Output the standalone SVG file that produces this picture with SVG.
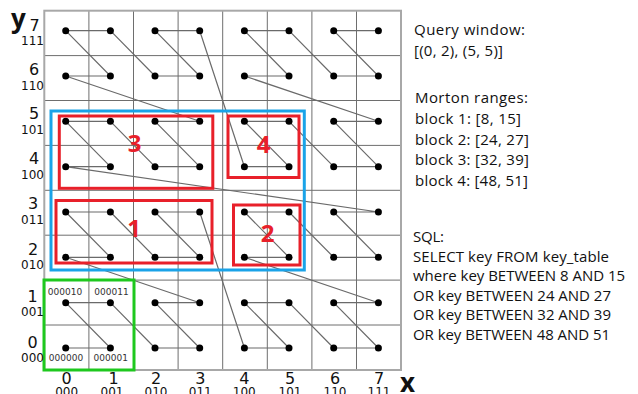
<svg xmlns="http://www.w3.org/2000/svg" width="638" height="394" viewBox="0 0 638 394">
<style>
.gi{stroke:#6e6e6e;stroke-width:1;fill:none}
.go{stroke:#a8a8a8;stroke-width:2;fill:none}
.curve{stroke:#6a6a6a;stroke-width:1.2;fill:none;stroke-linejoin:round}
.dot{fill:#000}
.red{stroke:#e8202a;stroke-width:3;fill:none}
.blue{stroke:#1aa3e8;stroke-width:3;fill:none}
.green{stroke:#1ec81e;stroke-width:3;fill:none}
.rl{font-family:"Open Sans","Noto Sans",sans-serif;font-weight:bold;font-size:24px;fill:#e8202a;text-anchor:middle}
.num{font-family:"DejaVu Sans",sans-serif;font-size:16px;fill:#111;text-anchor:middle}
.bin{font-family:"DejaVu Sans",sans-serif;font-size:12px;fill:#111;text-anchor:middle}
.code{font-family:"DejaVu Sans",sans-serif;font-size:9px;fill:#333;text-anchor:middle}
.ax{font-family:"Open Sans","DejaVu Sans",sans-serif;font-weight:bold;font-size:26px;fill:#111}
.txt{font-family:"Open Sans","Noto Sans",sans-serif;font-size:15px;fill:#111}
</style>
<rect width="638" height="394" fill="#fff"/>
<g id="grid">
<path class="gi" d="M88.9 10.7V370M133.5 10.7V370M178.1 10.7V370M222.7 10.7V370M267.3 10.7V370M311.9 10.7V370M356.5 10.7V370M44.3 55.6H401M44.3 100.5H401M44.3 145.4H401M44.3 190.3H401M44.3 235.2H401M44.3 280.1H401M44.3 325H401"/>
<rect class="go" x="44.3" y="10.7" width="356.7" height="359.3"/>
</g>
<g id="connectors">
<polyline class="curve" points="65.7,348 110.4,348 65.7,302.7 110.4,302.7 155,348 199.7,348 155,302.7 199.7,302.7 65.7,257.3 110.4,257.3 65.7,212 110.4,212 155,257.3 199.7,257.3 155,212 199.7,212 244.4,348 289,348 244.4,302.7 289,302.7 333.7,348 378.4,348 333.7,302.7 378.4,302.7 244.4,257.3 289,257.3 244.4,212 289,212 333.7,257.3 378.4,257.3 333.7,212 378.4,212 65.7,166.7 110.4,166.7 65.7,121.3 110.4,121.3 155,166.7 199.7,166.7 155,121.3 199.7,121.3 65.7,76 110.4,76 65.7,30.7 110.4,30.7 155,76 199.7,76 155,30.7 199.7,30.7 244.4,166.7 289,166.7 244.4,121.3 289,121.3 333.7,166.7 378.4,166.7 333.7,121.3 378.4,121.3 244.4,76 289,76 244.4,30.7 289,30.7 333.7,76 378.4,76 333.7,30.7 378.4,30.7"/>
</g>
<defs><circle id="d" r="3.5" class="dot"/></defs>
<g id="points" class="dot">
<use href="#d" x="65.7" y="348"/><use href="#d" x="110.4" y="348"/><use href="#d" x="155" y="348"/><use href="#d" x="199.7" y="348"/><use href="#d" x="244.4" y="348"/><use href="#d" x="289" y="348"/><use href="#d" x="333.7" y="348"/><use href="#d" x="378.4" y="348"/>
<use href="#d" x="65.7" y="302.7"/><use href="#d" x="110.4" y="302.7"/><use href="#d" x="155" y="302.7"/><use href="#d" x="199.7" y="302.7"/><use href="#d" x="244.4" y="302.7"/><use href="#d" x="289" y="302.7"/><use href="#d" x="333.7" y="302.7"/><use href="#d" x="378.4" y="302.7"/>
<use href="#d" x="65.7" y="257.3"/><use href="#d" x="110.4" y="257.3"/><use href="#d" x="155" y="257.3"/><use href="#d" x="199.7" y="257.3"/><use href="#d" x="244.4" y="257.3"/><use href="#d" x="289" y="257.3"/><use href="#d" x="333.7" y="257.3"/><use href="#d" x="378.4" y="257.3"/>
<use href="#d" x="65.7" y="212"/><use href="#d" x="110.4" y="212"/><use href="#d" x="155" y="212"/><use href="#d" x="199.7" y="212"/><use href="#d" x="244.4" y="212"/><use href="#d" x="289" y="212"/><use href="#d" x="333.7" y="212"/><use href="#d" x="378.4" y="212"/>
<use href="#d" x="65.7" y="166.7"/><use href="#d" x="110.4" y="166.7"/><use href="#d" x="155" y="166.7"/><use href="#d" x="199.7" y="166.7"/><use href="#d" x="244.4" y="166.7"/><use href="#d" x="289" y="166.7"/><use href="#d" x="333.7" y="166.7"/><use href="#d" x="378.4" y="166.7"/>
<use href="#d" x="65.7" y="121.3"/><use href="#d" x="110.4" y="121.3"/><use href="#d" x="155" y="121.3"/><use href="#d" x="199.7" y="121.3"/><use href="#d" x="244.4" y="121.3"/><use href="#d" x="289" y="121.3"/><use href="#d" x="333.7" y="121.3"/><use href="#d" x="378.4" y="121.3"/>
<use href="#d" x="65.7" y="76"/><use href="#d" x="110.4" y="76"/><use href="#d" x="155" y="76"/><use href="#d" x="199.7" y="76"/><use href="#d" x="244.4" y="76"/><use href="#d" x="289" y="76"/><use href="#d" x="333.7" y="76"/><use href="#d" x="378.4" y="76"/>
<use href="#d" x="65.7" y="30.7"/><use href="#d" x="110.4" y="30.7"/><use href="#d" x="155" y="30.7"/><use href="#d" x="199.7" y="30.7"/><use href="#d" x="244.4" y="30.7"/><use href="#d" x="289" y="30.7"/><use href="#d" x="333.7" y="30.7"/><use href="#d" x="378.4" y="30.7"/>
</g>
<g id="query-window"><rect class="blue" x="51" y="111" width="253.3" height="159"/></g>
<g id="block-1"><rect class="red" x="56" y="200.5" width="156" height="62.5"/><text class="rl" x="134" y="237">1</text></g>
<g id="block-2"><rect class="red" x="233.5" y="205" width="66.5" height="60"/><text class="rl" x="267.5" y="242">2</text></g>
<g id="block-3"><rect class="red" x="59.3" y="116" width="153.5" height="72.3"/><text class="rl" x="134.5" y="152">3</text></g>
<g id="block-4"><rect class="red" x="228" y="116" width="71" height="61.5"/><text class="rl" x="263.5" y="153">4</text></g>
<g id="cell-codes">
<rect class="green" x="44" y="280" width="90" height="90"/>
<text class="code" x="65" y="294.5">000010</text>
<text class="code" x="111.5" y="294.5">000011</text>
<text class="code" x="66" y="360.5">000000</text>
<text class="code" x="110.7" y="360.5">000001</text>
</g>
<g id="y-axis">
<text class="ax" x="11" y="28">y</text>
<text class="num" x="34.5" y="31">7</text><text class="bin" x="32.5" y="44.5">111</text>
<text class="num" x="34" y="75">6</text><text class="bin" x="32.5" y="90">110</text>
<text class="num" x="34" y="119">5</text><text class="bin" x="32.5" y="134">101</text>
<text class="num" x="34" y="164">4</text><text class="bin" x="32.5" y="179">100</text>
<text class="num" x="33" y="209">3</text><text class="bin" x="32.5" y="224">011</text>
<text class="num" x="33" y="255">2</text><text class="bin" x="32.5" y="269">010</text>
<text class="num" x="32.5" y="302">1</text><text class="bin" x="32.5" y="315.5">001</text>
<text class="num" x="32.5" y="347.5">0</text><text class="bin" x="32.5" y="361.5">000</text>
</g>
<g id="x-axis">
<text class="ax" x="400" y="392">x</text>
<text class="num" x="66.7" y="384">0</text><text class="bin" x="66.7" y="395.5">000</text>
<text class="num" x="113.5" y="384">1</text><text class="bin" x="112" y="395.5">001</text>
<text class="num" x="156" y="384">2</text><text class="bin" x="156" y="395.5">010</text>
<text class="num" x="200.3" y="384">3</text><text class="bin" x="200.3" y="395.5">011</text>
<text class="num" x="244.3" y="384">4</text><text class="bin" x="244.3" y="395.5">100</text>
<text class="num" x="290" y="384">5</text><text class="bin" x="290" y="395.5">101</text>
<text class="num" x="335" y="384">6</text><text class="bin" x="335" y="395.5">110</text>
<text class="num" x="379" y="384">7</text><text class="bin" x="379" y="395.5">111</text>
</g>
<g id="notes" class="txt">
<text x="414" y="35" textLength="111">Query window:</text>
<text x="414" y="55.5" textLength="89">[(0, 2), (5, 5)]</text>
<text x="415" y="103.3" textLength="113">Morton ranges:</text>
<text x="415" y="124.2" textLength="106">block 1: [8, 15]</text>
<text x="415" y="144.8" textLength="114">block 2: [24, 27]</text>
<text x="415" y="165.4" textLength="114">block 3: [32, 39]</text>
<text x="415" y="185.7" textLength="113">block 4: [48, 51]</text>
<text x="413" y="241.7" textLength="31">SQL:</text>
<text x="413" y="261.5" textLength="196">SELECT key FROM key_table</text>
<text x="413" y="281" textLength="212">where key BETWEEN 8 AND 15</text>
<text x="413" y="300.5" textLength="198">OR key BETWEEN 24 AND 27</text>
<text x="413" y="320" textLength="198">OR key BETWEEN 32 AND 39</text>
<text x="413" y="339.5" textLength="197">OR key BETWEEN 48 AND 51</text>
</g>
</svg>
